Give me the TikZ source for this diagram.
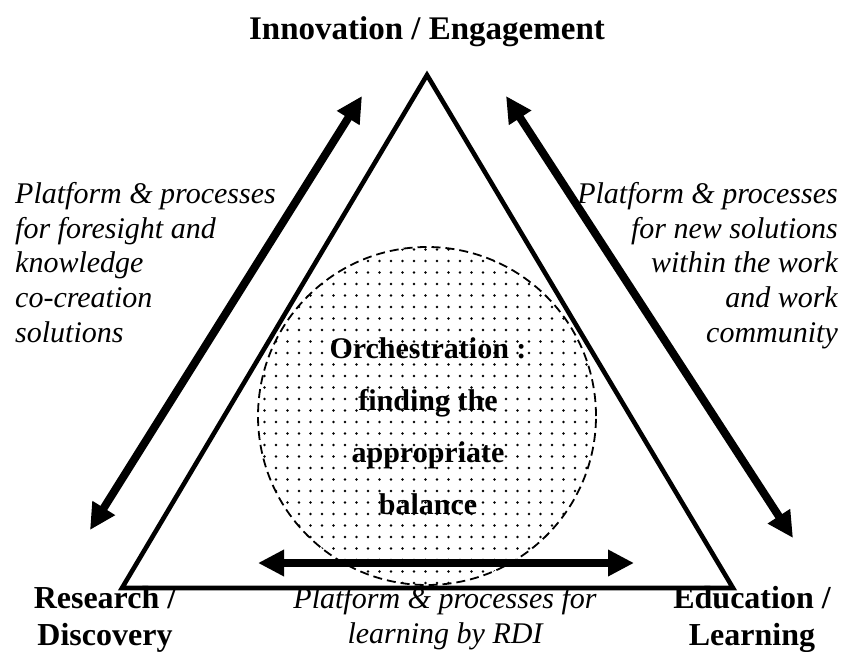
\documentclass[tikz,border=0pt]{standalone}
\usepackage{fontspec}
\setmainfont{Liberation Serif}
\usetikzlibrary{arrows.meta,patterns.meta}
\begin{document}
\begin{tikzpicture}[x=1pt,y=-1pt]
			\tikzstyle{every edge}=[draw,line width=8pt,{Triangle[length=26pt,width=25pt]}-{Triangle[length=26pt,width=25pt]}]
			\tikzstyle{corner}=[font=\fontsize{32}{37}\selectfont\bfseries,align=center,inner sep=0pt]
			\tikzstyle{plat}=[font=\fontsize{30}{34.6}\selectfont\itshape,inner sep=0pt]
			\useasboundingbox (0,0) rectangle (842,652);

			% balance circle
			\node (orchc) at (427,416) [circle,minimum size=338pt,inner sep=0pt,draw,dash pattern=on 9pt off 5pt,line width=1.8pt,pattern={Dots[distance=11.5pt,radius=1.4pt]}] {};

			% triangle
			\coordinate (top) at (427,75);
			\coordinate (bl) at (122,588);
			\coordinate (br) at (733,588);
			\draw [line width=4.6pt,line join=miter] (top) -- (br) -- (bl) -- cycle;

			% arrow ends
			\coordinate (l1) at (90,530);
			\coordinate (l2) at (362,96);
			\coordinate (r1) at (506,96);
			\coordinate (r2) at (793,538);
			\coordinate (b1) at (258,563);
			\coordinate (b2) at (634,563);
			\path (l1) edge (l2);
			\path (r1) edge (r2);
			\path (b1) edge (b2);

			\node (inno) at (427,40) [anchor=base,font=\fontsize{33}{38}\selectfont\bfseries,inner sep=0pt] {Innovation / Engagement};
			\node (res) at (105,645) [corner,anchor=base] {Research /\\Discovery};
			\node (edu) at (752,645) [corner,anchor=base] {Education /\\Learning};

			\node (pleft) at (15,342) [plat,anchor=base west,align=left] {Platform \& processes\\for foresight and\\knowledge\\co-creation\\solutions};
			\node (pright) at (838,342) [plat,anchor=base east,align=right] {Platform \& processes\\for new solutions\\within the work\\and work\\community};
			\node (pbot) at (445,643) [plat,anchor=base,align=center] {Platform \& processes for\\learning by RDI};

			\node (orch) at (428,514) [anchor=base,align=center,inner sep=0pt,font=\fontsize{30}{52}\selectfont\bfseries] {Orchestration :\\finding the\\appropriate\\balance};
		\end{tikzpicture}
\end{document}
